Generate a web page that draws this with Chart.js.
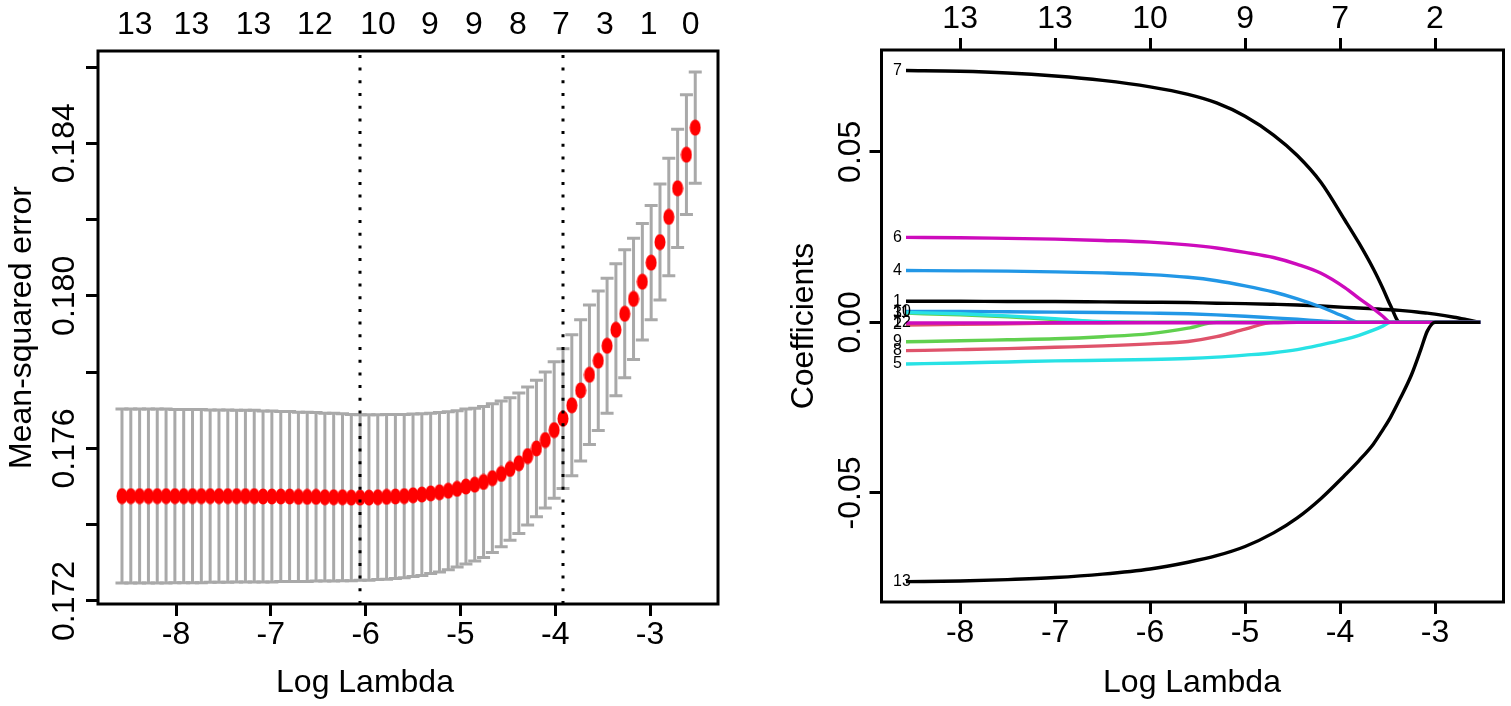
<!DOCTYPE html>
<html>
<head>
<meta charset="utf-8">
<script src="https://cdn.jsdelivr.net/npm/chart.js@4.4.0/dist/chart.umd.min.js"></script>
<style>
  html, body { margin: 0; padding: 0; background: #fff; }
  #wrap { position: relative; width: 1511px; height: 706px; }
  canvas { position: absolute; top: 0; }
  #cv { left: 0; }
  #path { left: 755px; }
</style>
</head>
<body>
<div id="wrap">
  <canvas id="cv" width="755" height="706"></canvas>
  <canvas id="path" width="756" height="706"></canvas>
</div>
<script>
// ---- left panel: cross-validation curve ----
const logLambda = [-8.570, -8.477, -8.384, -8.291, -8.198, -8.105, -8.012, -7.919, -7.826, -7.733,
  -7.640, -7.547, -7.454, -7.361, -7.268, -7.175, -7.082, -6.989, -6.895, -6.802,
  -6.709, -6.616, -6.523, -6.430, -6.337, -6.244, -6.151, -6.058, -5.965, -5.872,
  -5.779, -5.686, -5.593, -5.500, -5.407, -5.314, -5.221, -5.128, -5.035, -4.942,
  -4.849, -4.756, -4.663, -4.570, -4.477, -4.384, -4.291, -4.198, -4.105, -4.011,
  -3.918, -3.825, -3.732, -3.639, -3.546, -3.453, -3.360, -3.267, -3.174, -3.081,
  -2.988, -2.895, -2.802, -2.709, -2.616, -2.523];
const cvm = [0.17475, 0.17475, 0.17475, 0.17475, 0.17475, 0.17475, 0.17475, 0.17475, 0.17475, 0.17475,
  0.17475, 0.17475, 0.17475, 0.17475, 0.17475, 0.17475, 0.17474, 0.17474, 0.17474, 0.17474,
  0.17473, 0.17473, 0.17473, 0.17472, 0.17472, 0.17472, 0.17471, 0.17471, 0.17471, 0.17472,
  0.17473, 0.17474, 0.17475, 0.17477, 0.17479, 0.17482, 0.17485, 0.17489, 0.17494, 0.17500,
  0.17505, 0.17512, 0.17522, 0.17533, 0.17546, 0.17561, 0.17580, 0.17600, 0.17622, 0.17648,
  0.17678, 0.17713, 0.17752, 0.17793, 0.17830, 0.17869, 0.17911, 0.17953, 0.17992, 0.18037,
  0.18087, 0.18141, 0.18207, 0.18282, 0.18370, 0.18441];
const cvsd = [0.00228, 0.00228, 0.00228, 0.00228, 0.00228, 0.00228, 0.00227, 0.00227, 0.00227, 0.00227,
  0.00226, 0.00226, 0.00226, 0.00225, 0.00225, 0.00225, 0.00224, 0.00224, 0.00223, 0.00223,
  0.00222, 0.00222, 0.00221, 0.00220, 0.00220, 0.00219, 0.00218, 0.00217, 0.00217, 0.00216,
  0.00216, 0.00215, 0.00214, 0.00213, 0.00212, 0.00210, 0.00209, 0.00207, 0.00205, 0.00203,
  0.00200, 0.00198, 0.00195, 0.00191, 0.00187, 0.00184, 0.00181, 0.00179, 0.00178, 0.00179,
  0.00183, 0.00185, 0.00185, 0.00183, 0.00183, 0.00177, 0.00173, 0.00168, 0.00159, 0.00153,
  0.00150, 0.00152, 0.00154, 0.00155, 0.00157, 0.00146];
const lambdaMinLog = -6.058;
const lambda1seLog = -3.918;
const nzeroAt = [-8.435, -7.838, -7.182, -6.535, -5.869, -5.323, -4.859, -4.394, -3.939, -3.475, -3.015, -2.571];
const nzeroLabels = ['13', '13', '13', '12', '10', '9', '9', '8', '7', '3', '1', '0'];
const lambdaTicks = [-8, -7, -6, -5, -4, -3];
const mseTicks = [0.172, 0.174, 0.176, 0.178, 0.180, 0.182, 0.184, 0.186];
const mseTickLabels = ['0.172', '', '0.176', '', '0.180', '', '0.184', ''];

// ---- right panel: coefficient paths ----
const pathX = [-8.57, -8.0, -7.5, -7.0, -6.5, -6.0, -5.6, -5.3, -5.0, -4.7, -4.45, -4.2, -3.95,
  -3.8, -3.65, -3.55, -3.47, -3.37, -3.25, -3.15, -3.08, -3.0, -2.8, -2.65, -2.523];
const coef1 = [0.0062, 0.0062, 0.0061, 0.0061, 0.0060, 0.0059, 0.0058, 0.0056, 0.0055, 0.0053, 0.0051, 0.0048, 0.0044,
  0.0042, 0.0040, 0.0038, 0.0037, 0.0035, 0.0032, 0.0029, 0.0027, 0.0024, 0.0015, 0.0007, 0];
const coef2 = [-0.0008, -0.0006, -0.0004, -0.0002, -0.0001, 0, 0, 0, 0, 0, 0, 0, 0,
  0, 0, 0, 0, 0, 0, 0, 0, 0, 0, 0, 0];
const coef3 = [0.0027, 0.0022, 0.0016, 0.0008, 0.0001, 0, 0, 0, 0, 0, 0, 0, 0,
  0, 0, 0, 0, 0, 0, 0, 0, 0, 0, 0, 0];
const coef4 = [0.0152, 0.0151, 0.0150, 0.0148, 0.0145, 0.0140, 0.0132, 0.0122, 0.0107, 0.0089, 0.0069, 0.0045, 0.0016,
  0, 0, 0, 0, 0, 0, 0, 0, 0, 0, 0, 0];
const coef5 = [-0.0122, -0.0119, -0.0116, -0.0113, -0.0111, -0.0109, -0.0106, -0.0102, -0.0096, -0.0089, -0.0080, -0.0066, -0.0050,
  -0.0038, -0.0023, -0.0011, 0, 0, 0, 0, 0, 0, 0, 0, 0];
const coef6 = [0.0249, 0.0248, 0.0246, 0.0244, 0.0240, 0.0235, 0.0227, 0.0218, 0.0205, 0.0190, 0.0170, 0.0144, 0.0102,
  0.0070, 0.0040, 0.0018, 0, 0, 0, 0, 0, 0, 0, 0, 0];
const coef7 = [0.0738, 0.0736, 0.0731, 0.0722, 0.0709, 0.0690, 0.0668, 0.0643, 0.0604, 0.0549, 0.0489, 0.0410, 0.0300,
  0.0232, 0.0157, 0.0100, 0.0050, 0, 0, 0, 0, 0, 0, 0, 0];
const coef8 = [-0.0083, -0.0080, -0.0077, -0.0073, -0.0069, -0.0063, -0.0056, -0.0042, -0.0020, 0, 0, 0, 0,
  0, 0, 0, 0, 0, 0, 0, 0, 0, 0, 0, 0];
const coef9 = [-0.0057, -0.0054, -0.0051, -0.0048, -0.0042, -0.0033, -0.0017, 0, 0, 0, 0, 0, 0,
  0, 0, 0, 0, 0, 0, 0, 0, 0, 0, 0, 0];
const coef10 = [0.0032, 0.0032, 0.0031, 0.0030, 0.0029, 0.0027, 0.0025, 0.0022, 0.0018, 0.0013, 0.0009, 0.0004, 0,
  0, 0, 0, 0, 0, 0, 0, 0, 0, 0, 0, 0];
const coef11 = [0.0029, 0.0025, 0.0019, 0.0011, 0.0002, 0, 0, 0, 0, 0, 0, 0, 0,
  0, 0, 0, 0, 0, 0, 0, 0, 0, 0, 0, 0];
const coef12 = [-0.0002, -0.0002, -0.0002, -0.0001, -0.0001, -0.0001, -0.0001, -0.0001, -0.0001, -0.0001, 0, 0, 0,
  0, 0, 0, 0, 0, 0, 0, 0, 0, 0, 0, 0];
const coef13 = [-0.0760, -0.0758, -0.0754, -0.0748, -0.0738, -0.0723, -0.0703, -0.0684, -0.0657, -0.0617, -0.0573, -0.0516, -0.0448,
  -0.0405, -0.0357, -0.0315, -0.0279, -0.0225, -0.0155, -0.0080, -0.0025, 0, 0, 0, 0];
const pathTopLabels = ['13', '13', '10', '9', '7', '2'];
const coefTicks = [-0.05, 0, 0.05];
const coefTickLabels = ['-0.05', '0.00', '0.05'];
const varColors = ['#000000', '#DF536B', '#61D04F', '#2297E6', '#28E2E5', '#CD0BBC'];

const FONT = '"Liberation Sans", Arial, Helvetica, sans-serif';
const TXT = 32;

// red ellipse used as point marker
const dot = document.createElement('canvas');
dot.width = 12; dot.height = 17;
const dc = dot.getContext('2d');
dc.fillStyle = '#FF0000';
dc.beginPath(); dc.ellipse(6, 8.5, 5.5, 8, 0, 0, Math.PI * 2); dc.fill();

const tickGrid = { display: true, drawOnChartArea: false, drawTicks: true, tickLength: 12, tickWidth: 3, tickColor: '#000', color: '#000' };
const setTicks = vals => s => { s.ticks = vals.map(v => ({ value: v })); };

// box, rotated y labels and axis titles, drawn R style
function rFrame(o) {
  return {
    id: 'rFrame',
    afterDraw(chart) {
      const { ctx, chartArea: a, scales: { y } } = chart;
      ctx.save();
      ctx.strokeStyle = '#000'; ctx.lineWidth = 3;
      ctx.strokeRect(a.left, a.top, a.right - a.left, a.bottom - a.top);
      ctx.fillStyle = '#000';
      ctx.font = TXT + 'px ' + FONT;
      ctx.textAlign = 'center'; ctx.textBaseline = 'alphabetic';
      y.ticks.forEach((t, i) => {
        const lab = o.yLabels[i];
        if (!lab) return;
        ctx.save();
        ctx.translate(a.left - o.yLabelGap, y.getPixelForValue(t.value));
        ctx.rotate(-Math.PI / 2);
        ctx.fillText(lab, 0, 0);
        ctx.restore();
      });
      ctx.save();
      ctx.translate(o.yTitleX, (a.top + a.bottom) / 2);
      ctx.rotate(-Math.PI / 2);
      ctx.fillText(o.yTitle, 0, 0);
      ctx.restore();
      ctx.fillText(o.xTitle, o.xTitleX, o.xTitleY);
      ctx.restore();
    }
  };
}

const errBars = {
  id: 'errBars',
  beforeDatasetsDraw(chart) {
    const { ctx, scales: { x, y } } = chart;
    ctx.save();
    ctx.strokeStyle = '#A9A9A9'; ctx.lineWidth = 3;
    logLambda.forEach((v, i) => {
      const px = x.getPixelForValue(v);
      const hi = y.getPixelForValue(cvm[i] + cvsd[i]);
      const lo = y.getPixelForValue(cvm[i] - cvsd[i]);
      ctx.beginPath();
      ctx.moveTo(px, hi); ctx.lineTo(px, lo);
      ctx.moveTo(px - 6.5, hi); ctx.lineTo(px + 6.5, hi);
      ctx.moveTo(px - 6.5, lo); ctx.lineTo(px + 6.5, lo);
      ctx.stroke();
    });
    ctx.restore();
  },
  afterDatasetsDraw(chart) {
    const { ctx, chartArea: a, scales: { x } } = chart;
    ctx.save();
    ctx.strokeStyle = '#000'; ctx.lineWidth = 3; ctx.setLineDash([3, 9.7]);
    [lambdaMinLog, lambda1seLog].forEach(v => {
      const px = Math.round(x.getPixelForValue(v));
      ctx.beginPath(); ctx.moveTo(px, a.bottom); ctx.lineTo(px, a.top); ctx.stroke();
    });
    ctx.restore();
  }
};

const tickFont = { family: FONT, size: TXT };

new Chart(document.getElementById('cv'), {
  type: 'scatter',
  data: {
    datasets: [{
      data: logLambda.map((x, i) => ({ x: x, y: cvm[i] })),
      pointStyle: dot, pointRadius: 6, pointHoverRadius: 6,
      backgroundColor: '#FF0000', borderWidth: 0
    }]
  },
  options: {
    responsive: false, animation: false, devicePixelRatio: 1, events: [],
    layout: { padding: { left: 0, right: 37, top: 0, bottom: 0 } },
    plugins: { legend: { display: false }, tooltip: { enabled: false } },
    scales: {
      x: {
        type: 'linear', position: 'bottom', min: -8.823, max: -2.283,
        afterBuildTicks: setTicks(lambdaTicks), afterFit: s => { s.height = 102; },
        grid: tickGrid, border: { display: false },
        ticks: { font: tickFont, color: '#000', padding: 0, maxRotation: 0, autoSkip: false, callback: v => String(v) }
      },
      x2: {
        type: 'linear', position: 'top', min: -8.823, max: -2.283,
        afterBuildTicks: setTicks(nzeroAt), afterFit: s => { s.height = 51; },
        grid: { display: false, drawTicks: false }, border: { display: false },
        ticks: { font: tickFont, color: '#000', padding: 7, maxRotation: 0, autoSkip: false, callback: (v, i) => nzeroLabels[i] }
      },
      y: {
        type: 'linear', min: 0.17192, max: 0.18642,
        afterBuildTicks: setTicks(mseTicks), afterFit: s => { s.width = 98; },
        grid: tickGrid, border: { display: false }, ticks: { display: false }
      }
    }
  },
  plugins: [errBars, rFrame({
    yLabels: mseTickLabels, yLabelGap: 24, yTitle: 'Mean-squared error', yTitleX: 31,
    xTitle: 'Log Lambda', xTitleX: 365, xTitleY: 692
  })]
});

const coefs = [coef1, coef2, coef3, coef4, coef5, coef6, coef7, coef8, coef9, coef10, coef11, coef12, coef13];
const pathSets = coefs.map((vals, j) => ({
  label: String(j + 1),
  data: pathX.map((x, i) => ({ x: x, y: vals[i] })),
  borderColor: varColors[j % 6], borderWidth: 3.4,
  pointRadius: 0, cubicInterpolationMode: 'monotone', fill: false
})).reverse();

const varLabels = {
  id: 'varLabels',
  afterDatasetsDraw(chart) {
    const { ctx, scales: { x, y } } = chart;
    ctx.save();
    ctx.fillStyle = '#000'; ctx.font = '16px ' + FONT;
    ctx.textAlign = 'left'; ctx.textBaseline = 'middle';
    const lx = x.getPixelForValue(pathX[0]) - 13;
    coefs.forEach((vals, j) => ctx.fillText(String(j + 1), lx, y.getPixelForValue(vals[0])));
    ctx.restore();
  }
};

new Chart(document.getElementById('path'), {
  type: 'line',
  data: { datasets: pathSets },
  options: {
    responsive: false, animation: false, devicePixelRatio: 1, events: [],
    layout: { padding: { left: 0, right: 7.5, top: 0, bottom: 0 } },
    plugins: { legend: { display: false }, tooltip: { enabled: false } },
    scales: {
      x: {
        type: 'linear', position: 'bottom', min: -8.828, max: -2.279,
        afterBuildTicks: setTicks(lambdaTicks), afterFit: s => { s.height = 104; },
        grid: tickGrid, border: { display: false },
        ticks: { font: tickFont, color: '#000', padding: 0, maxRotation: 0, autoSkip: false, callback: v => String(v) }
      },
      x2: {
        type: 'linear', position: 'top', min: -8.828, max: -2.279,
        afterBuildTicks: setTicks(lambdaTicks), afterFit: s => { s.height = 50; },
        grid: tickGrid, border: { display: false },
        ticks: { font: tickFont, color: '#000', padding: 0, maxRotation: 0, autoSkip: false, callback: (v, i) => pathTopLabels[i] }
      },
      y: {
        type: 'linear', min: -0.08196, max: 0.07982,
        afterBuildTicks: setTicks(coefTicks), afterFit: s => { s.width = 126.5; },
        grid: tickGrid, border: { display: false }, ticks: { display: false }
      }
    }
  },
  plugins: [varLabels, rFrame({
    yLabels: coefTickLabels, yLabelGap: 22, yTitle: 'Coefficients', yTitleX: 58,
    xTitle: 'Log Lambda', xTitleX: 437, xTitleY: 692
  })]
});
</script>
</body>
</html>
